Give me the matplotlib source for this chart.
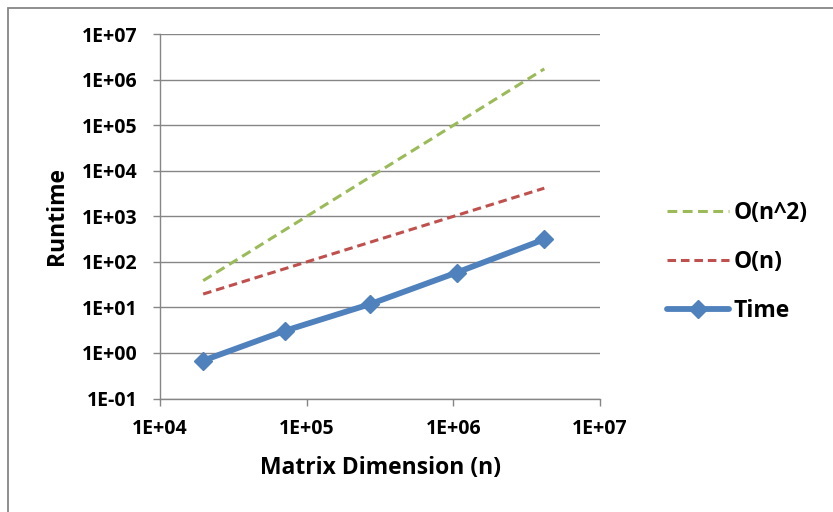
import matplotlib
matplotlib.use("Agg")
import matplotlib.pyplot as plt
from matplotlib.patches import Rectangle

# ---- data ----
n_values = [19700, 71200, 270000, 1055000, 4170000]
time_values = [0.68, 3.08, 11.8, 58.5, 313]
o_n_values = [19.7, 71.2, 270, 1055, 4170]
o_n2_values = [38.8, 507, 7290, 111300, 1739000]

x_ticks = [1e4, 1e5, 1e6, 1e7]
x_tick_labels = ["1E+04", "1E+05", "1E+06", "1E+07"]
y_ticks = [1e-1, 1e0, 1e1, 1e2, 1e3, 1e4, 1e5, 1e6, 1e7]
y_tick_labels = ["1E-01", "1E+00", "1E+01", "1E+02", "1E+03",
                 "1E+04", "1E+05", "1E+06", "1E+07"]

FONT = "Open Sans"
GRID = "#868686"

fig = plt.figure(figsize=(8.33, 5.12), dpi=100)
fig.patch.set_facecolor("white")

W, H = 833, 512
ax = fig.add_axes([160 / W, (H - 398.5) / H, 440 / W, (398.5 - 34.3) / H])

ax.plot(n_values, o_n2_values, color="#9BBB59", lw=2.2, dashes=(3.2, 1.8),
        label="O(n^2)", zorder=3)
ax.plot(n_values, o_n_values, color="#C0504D", lw=2.2, dashes=(2.8, 1.6),
        label="O(n)", zorder=3)
ax.plot(n_values, time_values, color="#4F81BD", lw=4.2, marker="D",
        markersize=9.5, solid_capstyle="round", label="Time", zorder=4)

ax.set_xscale("log")
ax.set_yscale("log")
ax.set_xlim(1e4, 1e7)
ax.set_ylim(1e-1, 1e7)
ax.set_xticks(x_ticks)
ax.set_xticklabels(x_tick_labels)
ax.set_yticks(y_ticks)
ax.set_yticklabels(y_tick_labels)
ax.minorticks_off()

for lab in ax.get_xticklabels() + ax.get_yticklabels():
    lab.set_fontfamily(FONT)
    lab.set_fontweight("bold")
    lab.set_fontsize(14)

ax.tick_params(axis="both", direction="out", length=5, width=1.0, color=GRID)
ax.tick_params(axis="y", pad=11)
ax.tick_params(axis="x", pad=10)

ax.grid(axis="y", color=GRID, lw=1.0)
ax.set_axisbelow(True)
for s in ["top", "right"]:
    ax.spines[s].set_visible(False)
for s in ["left", "bottom"]:
    ax.spines[s].set_color(GRID)
    ax.spines[s].set_linewidth(1.0)

ax.set_xlabel("Matrix Dimension (n)", fontfamily=FONT, fontweight="bold",
              fontsize=16.5, va="center")
ax.xaxis.set_label_coords(0.5, (398.5 - 468) / (398.5 - 34.3))
ax.set_ylabel("Runtime", fontfamily=FONT, fontweight="bold", fontsize=16.5,
              va="center")
ax.yaxis.set_label_coords((57 - 160) / 440, 0.5)

leg = ax.legend(loc="center left", bbox_to_anchor=(667 / W, (H - 262) / H),
                bbox_transform=fig.transFigure, frameon=False,
                prop={"family": FONT, "weight": "bold", "size": 16.5},
                handlelength=2.7, handletextpad=0.22, labelspacing=1.1,
                borderaxespad=0, borderpad=0)

fig.add_artist(Rectangle((8 / W, -0.1), 2.0, 1 - 8 / H + 0.1,
                         transform=fig.transFigure, fill=False,
                         edgecolor=GRID, lw=1.3))

fig.savefig("out.png", dpi=100)
